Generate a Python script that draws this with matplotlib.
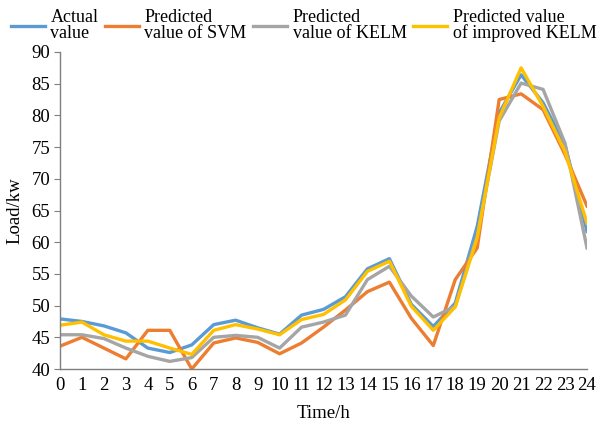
import matplotlib
matplotlib.use('Agg')
import matplotlib.pyplot as plt
import numpy as np

plt.rcParams.update({
    'font.family': ['Liberation Serif', 'DejaVu Serif'],
    'font.size': 13.5,
    'axes.spines.right': False,
    'axes.spines.top': False,
})

# Hourly load (kW)
hours = np.arange(0, 25)
actual = [47.9, 47.5, 46.8, 45.7, 43.3, 42.6, 43.8, 47.0, 47.7, 46.5, 45.5, 48.5, 49.4,
          51.4, 55.8, 57.4, 50.2, 46.7, 50.4, 62.5, 80.4, 86.4, 82.0, 75.3, 61.7]
svm = [43.6, 45.0, 43.3, 41.6, 46.1, 46.1, 40.0, 44.1, 44.9, 44.2, 42.4, 44.1, 46.6,
       49.3, 52.2, 53.7, 48.0, 43.7, 54.1, 59.1, 82.5, 83.4, 80.9, 73.8, 65.7]
kelm = [45.4, 45.4, 44.8, 43.3, 42.0, 41.2, 41.8, 45.0, 45.3, 45.0, 43.3, 46.6, 47.4,
        48.5, 54.1, 56.2, 51.5, 48.2, 49.9, 61.0, 79.1, 85.1, 84.1, 75.6, 59.1]
improved = [46.9, 47.4, 45.4, 44.4, 44.4, 43.3, 42.3, 46.1, 47.0, 46.3, 45.4, 47.8, 48.6,
            50.9, 55.4, 57.0, 49.9, 46.1, 49.8, 60.7, 79.6, 87.5, 81.4, 74.3, 63.0]

series = [
    (actual, 'Actual\nvalue', '#5B9BD5'),
    (svm, 'Predicted\nvalue of SVM', '#ED7D31'),
    (kelm, 'Predicted\nvalue of KELM', '#A5A5A5'),
    (improved, 'Predicted value\nof improved KELM', '#FFC000'),
]

fig = plt.figure(figsize=(6.07, 4.28), dpi=100)
ax = fig.add_axes([60 / 607, 1 - 369 / 428, 527 / 607, 317 / 428])

for vals, lab, col in series:
    ax.plot(hours, vals, color=col, linewidth=2.4, label=lab)

ax.set_xlim(0, 24)
ax.set_ylim(40, 90)
ax.set_yticks(np.arange(40, 91, 5))
ax.set_xticks(hours)
ax.set_xticklabels([str(h) for h in hours])
ax.set_xticks(np.arange(0, 25, 4), minor=True)
ax.tick_params(axis='x', which='major', length=0, pad=6)
ax.tick_params(axis='x', which='minor', direction='in', length=4, color='#7f7f7f')
ax.tick_params(axis='y', direction='out', length=4, color='#7f7f7f', pad=3)
for s in ['left', 'bottom']:
    ax.spines[s].set_color('#7f7f7f')
    ax.spines[s].set_linewidth(1.0)

ax.set_xlabel('Time/h', labelpad=8)
ax.set_ylabel('Load/kw', labelpad=6)

fig.legend(loc='upper center', bbox_to_anchor=(0.5, 1.005), ncol=4, frameon=False,
           fontsize=13, handlelength=1.9, handletextpad=0.3, columnspacing=0.35,
           borderaxespad=0.2, labelspacing=0.2)
leg = fig.legends[0]
for t in leg.get_texts():
    t.set_linespacing(0.9)

fig.savefig('out.png', dpi=100)
